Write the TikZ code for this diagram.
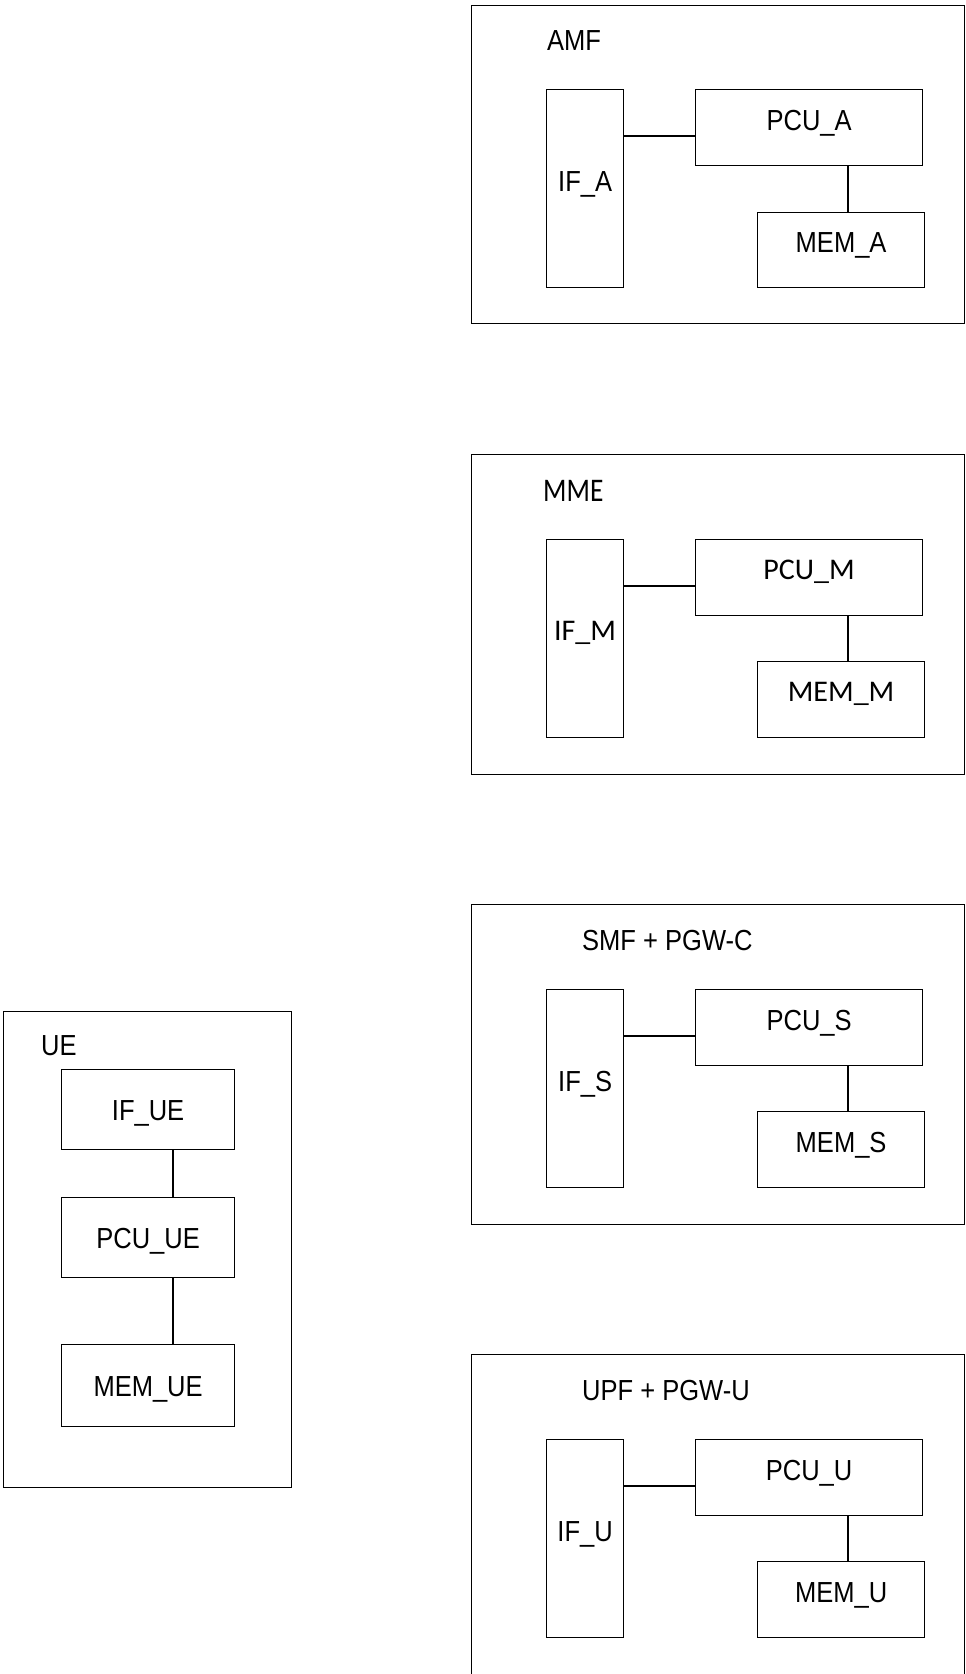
\documentclass[tikz,border=0pt]{standalone}
\usepackage{fontspec}
\usepackage{graphicx}
\setmainfont{Liberation Sans}
\newfontfamily\calfont{Carlito}
% narrow Arial-like lettering
\newcommand\nar[1]{\scalebox{0.88}[1]{#1}}
\begin{document}
\begin{tikzpicture}[x=1pt,y=-1pt,
  frame/.style={draw, line width=1.2pt, inner sep=0pt, anchor=north west, minimum width=493pt},
  blk/.style={draw, line width=1.2pt, inner sep=0pt, anchor=north west},
  arlblk/.style={blk, font=\fontsize{29}{34}\selectfont, text height=21pt, text depth=16pt},
  calblk/.style={blk, font=\calfont\fontsize{30}{36}\selectfont, text height=19.3pt, text depth=16pt},
  ueblk/.style={blk, font=\fontsize{29}{34}\selectfont, text height=21pt, text depth=0pt,
    minimum width=173pt, minimum height=80pt},
  ifblk/.style={minimum width=77pt, minimum height=198pt},
  pcublk/.style={minimum width=227pt, minimum height=76pt},
  memblk/.style={minimum width=167pt, minimum height=75pt},
  ttl/.style={anchor=base west, inner sep=0pt, font=\fontsize{29}{34}\selectfont},
  link/.style={line width=1.2pt}]
\fill[white] (0,0) rectangle (966,1674);
\useasboundingbox (0,0) rectangle (966,1674);

% AMF
\node[frame, minimum height=318pt] (amf) at (471,5) {};
\node[ttl] (amft) at (547,50.5) {\nar{AMF}};
\node[arlblk, ifblk] (ifa) at (546,89) {\nar{IF\_A}};
\node[arlblk, pcublk] (pcua) at (695,89) {\nar{PCU\_A}};
\node[arlblk, memblk] (mema) at (757,212) {\nar{MEM\_A}};
\draw[link] ([yshift=-47pt]ifa.north east) -- ([yshift=-47pt]pcua.north west);
\draw[link] ([xshift=153pt]pcua.south west) -- ([xshift=153pt]pcua.south west |- mema.north);

% MME
\node[frame, minimum height=320pt] (mme) at (471,454) {};
\node[ttl, font=\calfont\fontsize{33}{38}\selectfont] (mmet) at (543,501) {\scalebox{0.83}[1]{MME}};
\node[calblk, ifblk] (ifm) at (546,539) {IF\_M};
\node[calblk, pcublk] (pcum) at (695,539) {PCU\_M};
\node[calblk, memblk, minimum height=76pt] (memm) at (757,661) {MEM\_M};
\draw[link] ([yshift=-47pt]ifm.north east) -- ([yshift=-47pt]pcum.north west);
\draw[link] ([xshift=153pt]pcum.south west) -- ([xshift=153pt]pcum.south west |- memm.north);

% SMF + PGW-C
\node[frame, minimum height=320pt] (smf) at (471,904) {};
\node[ttl] (smft) at (582,950.5) {\nar{SMF + PGW-C}};
\node[arlblk, ifblk] (ifs) at (546,989) {\nar{IF\_S}};
\node[arlblk, pcublk] (pcus) at (695,989) {\nar{PCU\_S}};
\node[arlblk, memblk, minimum height=76pt] (mems) at (757,1111) {\nar{MEM\_S}};
\draw[link] ([yshift=-47pt]ifs.north east) -- ([yshift=-47pt]pcus.north west);
\draw[link] ([xshift=153pt]pcus.south west) -- ([xshift=153pt]pcus.south west |- mems.north);

% UPF + PGW-U (runs past the lower edge)
\node[frame, minimum height=340pt] (upf) at (471,1354) {};
\node[ttl] (upft) at (582,1400) {\nar{UPF + PGW-U}};
\node[arlblk, ifblk] (ifu) at (546,1439) {\nar{IF\_U}};
\node[arlblk, pcublk] (pcuu) at (695,1439) {\nar{PCU\_U}};
\node[arlblk, memblk, minimum height=76pt] (memu) at (757,1561) {\nar{MEM\_U}};
\draw[link] ([yshift=-47pt]ifu.north east) -- ([yshift=-47pt]pcuu.north west);
\draw[link] ([xshift=153pt]pcuu.south west) -- ([xshift=153pt]pcuu.south west |- memu.north);

% UE
\node[frame, minimum width=288pt, minimum height=476pt] (ue) at (3,1011) {};
\node[ttl] (uet) at (41,1055) {\nar{UE}};
\node[ueblk] (ifue) at (61,1069) {\nar{IF\_UE}};
\node[ueblk] (pcuue) at (61,1197) {\nar{PCU\_UE}};
\node[ueblk, minimum height=82pt] (memue) at (61,1344) {\nar{MEM\_UE}};
\draw[link] ([xshift=112pt]ifue.south west) -- ([xshift=112pt]ifue.south west |- pcuue.north);
\draw[link] ([xshift=112pt]pcuue.south west) -- ([xshift=112pt]pcuue.south west |- memue.north);
\end{tikzpicture}
\end{document}
